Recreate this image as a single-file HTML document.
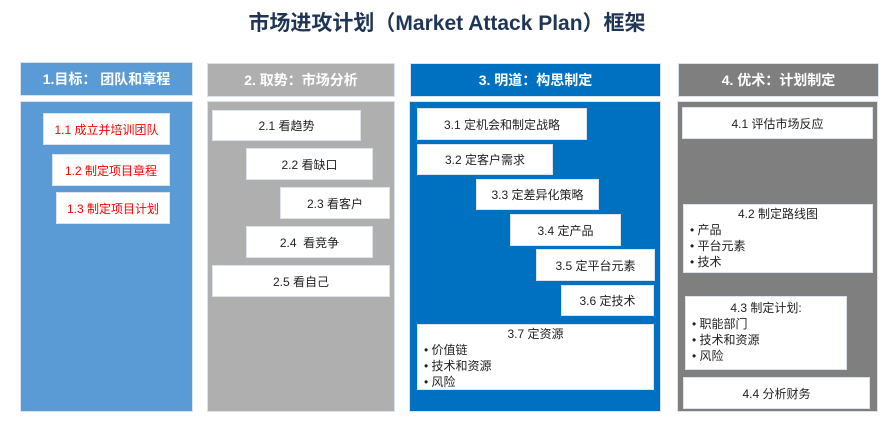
<!DOCTYPE html>
<html><head><meta charset="utf-8"><style>
*{margin:0;padding:0;box-sizing:border-box}
body{width:894px;height:427px;background:#fff;position:relative;overflow:hidden;font-family:"Liberation Sans","Noto Sans CJK SC",sans-serif}
.a{position:absolute}
.t{left:0;width:894px;top:7px;text-align:center;font-size:21px;font-weight:bold;color:#1f3556}
.h{color:#fff;font-weight:bold;font-size:14px;display:flex;align-items:center;justify-content:center;border:1px solid #d9e2ee}
.bd{border:1px solid #d9e2ee}
.b{background:#fff;border:1px solid #dde3ea;font-size:12px;color:#222;display:flex;align-items:center;justify-content:center}
.r{color:#f00}
.l{background:#fff;border:1px solid #dde3ea;font-size:12px;color:#222;line-height:16px;padding:1px 0 0 6px}
.l .c{text-align:center;margin-left:-6px}
</style></head><body>
<div class="a t">市场进攻计划（Market Attack Plan）框架</div>

<div class="a h" style="left:20px;top:62px;width:173px;height:34px;background:#5b9bd5">1.目标： 团队和章程</div>
<div class="a bd" style="left:20px;top:101px;width:173px;height:311px;background:#5b9bd5"></div>
<div class="a b r" style="left:43px;top:113px;width:127px;height:32px">1.1 成立并培训团队</div>
<div class="a b r" style="left:52px;top:154px;width:118px;height:32px">1.2 制定项目章程</div>
<div class="a b r" style="left:56px;top:192px;width:114px;height:32px">1.3 制定项目计划</div>

<div class="a h" style="left:207px;top:63px;width:188px;height:34px;background:#afafaf">2. 取势：市场分析</div>
<div class="a bd" style="left:207px;top:101px;width:188px;height:311px;background:#afafaf"></div>
<div class="a b" style="left:212px;top:110px;width:149px;height:31px">2.1 看趋势</div>
<div class="a b" style="left:246px;top:148px;width:127px;height:32px">2.2 看缺口</div>
<div class="a b" style="left:280px;top:187px;width:110px;height:32px">2.3 看客户</div>
<div class="a b" style="left:246px;top:226px;width:127px;height:32px">2.4 &nbsp;看竞争</div>
<div class="a b" style="left:212px;top:265px;width:178px;height:32px">2.5 看自己</div>

<div class="a h" style="left:410px;top:63px;width:251px;height:34px;background:#0070c0">3. 明道：构思制定</div>
<div class="a bd" style="left:409px;top:101px;width:252px;height:311px;background:#0070c0"></div>
<div class="a b" style="left:417px;top:108px;width:170px;height:32px">3.1 定机会和制定战略</div>
<div class="a b" style="left:417px;top:144px;width:136px;height:31px">3.2 定客户需求</div>
<div class="a b" style="left:476px;top:179px;width:123px;height:31px">3.3 定差异化策略</div>
<div class="a b" style="left:510px;top:214px;width:111px;height:32px">3.4 定产品</div>
<div class="a b" style="left:536px;top:249px;width:119px;height:32px">3.5 定平台元素</div>
<div class="a b" style="left:561px;top:285px;width:93px;height:31px">3.6 定技术</div>
<div class="a l" style="left:417px;top:324px;width:237px;height:66px"><div class="c">3.7 定资源</div>• 价值链<br>• 技术和资源<br>• 风险</div>

<div class="a h" style="left:678px;top:63px;width:201px;height:34px;background:#7f7f7f">4. 优术：计划制定</div>
<div class="a bd" style="left:677px;top:101px;width:201px;height:311px;background:#7f7f7f"></div>
<div class="a b" style="left:682px;top:107px;width:191px;height:32px">4.1 评估市场反应</div>
<div class="a l" style="left:683px;top:204px;width:190px;height:69px"><div class="c">4.2 制定路线图</div>• 产品<br>• 平台元素<br>• 技术</div>
<div class="a l" style="left:685px;top:296px;width:162px;height:74px;padding-top:3px"><div class="c">4.3 制定计划:</div>• 职能部门<br>• 技术和资源<br>• 风险</div>
<div class="a b" style="left:683px;top:377px;width:187px;height:32px">4.4 分析财务</div>
</body></html>
